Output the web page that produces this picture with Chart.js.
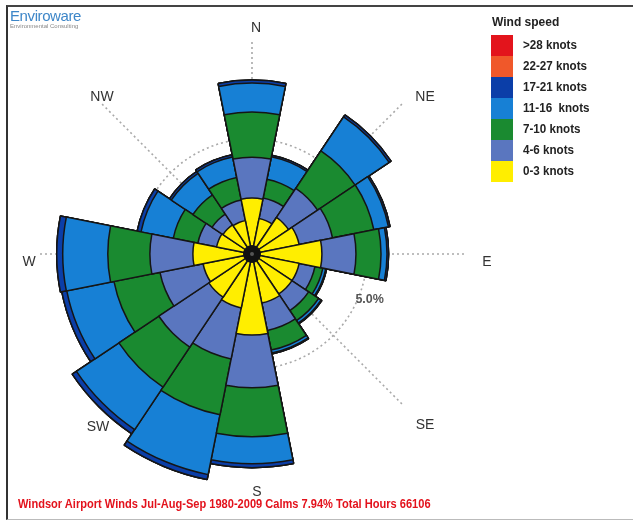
<!DOCTYPE html>
<html lang="en">
<head>
<meta charset="UTF-8">
<title>Windsor Airport Winds</title>
<script src="https://cdn.jsdelivr.net/npm/chart.js"></script>
<style>
  body { margin: 0; background: #fff; }
  .page { position: relative; width: 633px; height: 523px; overflow: hidden; font-family: "Liberation Sans", Arial, sans-serif; }
  .frame { position: absolute; left: 6px; top: 5px; width: 700px; height: 512px; border-left: 2px solid #333; border-top: 2px solid #444; border-bottom: 1px solid #bbb; }
  .rose { position: absolute; left: 2px; top: 4px; width: 500px; height: 500px; }
  .logo { position: absolute; left: 10px; top: 7px; color: #3d86c8; font-size: 15px; letter-spacing: -0.4px; }
  .logo small { display: block; color: #888; font-size: 6px; letter-spacing: 0; margin-top: -1px; }
  .legend { position: absolute; left: 491px; top: 15px; color: #222; font-weight: bold; }
  .legend .head { font-size: 12px; height: 20px; margin-left: 1px; }
  .legend .row { position: relative; height: 21px; }
  .legend .sw { position: absolute; left: 0; top: 0; width: 22px; height: 21px; }
  .legend .lab { position: absolute; left: 32px; top: 3px; font-size: 12.5px; white-space: pre; transform: scaleX(0.93); transform-origin: left; }
  .title { position: absolute; left: 18px; top: 496px; color: #e3121c; font-weight: bold; font-size: 13.5px; white-space: nowrap; transform: scaleX(0.82); transform-origin: left; }
</style>
</head>
<body>
<div class="page">
  <div class="frame"></div>
  <div class="rose"><canvas id="rose"></canvas></div>
  <div class="logo">Enviroware<small>Environmental Consulting</small></div>
  <div class="legend" id="legend"><div class="head">Wind speed</div></div>
  <div class="title">Windsor Airport Winds Jul-Aug-Sep 1980-2009 Calms 7.94% Total Hours 66106</div>
</div>

<script>
// directions, clockwise from north
var directions = ['N','NNE','NE','ENE','E','ESE','SE','SSE','S','SSW','SW','WSW','W','WNW','NW','NNW'];

// frequency (%) of each speed class per direction
var knots0to3   = [2.43,1.57,1.91,2.09,3.04,2.09,2.09,2.17,3.52,2.39,2.26,2.17,2.57,1.57,1.52,1.48];
var knots4to6   = [1.78,0.91,1.52,1.48,1.48,0.70,0.87,1.22,2.30,2.26,2.61,1.91,1.87,0.83,0.57,0.91];
var knots7to10  = [1.96,0.83,1.96,1.83,1.09,0.35,0.52,0.87,2.13,2.48,2.09,2.04,1.83,1.09,1.00,1.00];
var knots11to16 = [1.26,1.00,1.78,0.65,0.26,0.13,0.13,0.13,1.17,2.65,2.22,2.09,1.96,1.43,1.13,0.91];
var knots17to21 = [0.13,0.07,0.10,0.07,0.07,0.04,0.04,0.04,0.17,0.22,0.22,0.22,0.26,0.17,0.10,0.10];
var knots22to27 = [0,0,0,0,0,0,0,0,0,0,0,0,0,0,0,0];
var knotsOver28 = [0,0,0,0,0,0,0,0,0,0,0,0,0,0,0,0];

var classLabels = ['0-3 knots','4-6 knots','7-10 knots','11-16  knots','17-21 knots','22-27 knots','>28 knots'];
var classColors = ['#ffee00','#5a76bf','#1a8a30','#1780d5','#0b3ea8','#f0582a','#e3141c'];
var classValues = [knots0to3, knots4to6, knots7to10, knots11to16, knots17to21, knots22to27, knotsOver28];

var compassLabels = ['N','NE','E','SE','S','SW','W','NW'];
var ringLabel = '5.0%';

// stacked rose: each dataset holds the running total, smallest on top
var datasets = [];
var running = directions.map(function () { return 0; });
for (var k = 0; k < classValues.length; k++) {
  running = running.map(function (v, i) { return +(v + classValues[k][i]).toFixed(2); });
  datasets.push({
    label: classLabels[k],
    data: running.slice(),
    backgroundColor: classColors[k],
    borderColor: '#151515',
    borderWidth: 1.5
  });
}

// legend, top class first
var legend = document.getElementById('legend');
for (var j = classLabels.length - 1; j >= 0; j--) {
  var row = document.createElement('div');
  row.className = 'row';
  row.innerHTML = '<div class="sw" style="background:' + classColors[j] + '"></div><div class="lab"></div>';
  row.querySelector('.lab').textContent = classLabels[j];
  legend.appendChild(row);
}

var labelOffsets = [[4,6],[9,7],[3,8],[9,7],[5,6],[10,9],[9,8],[14,7]];

var compass = {
  id: 'compass',
  beforeDatasetsDraw: function (chart) {
    var s = chart.scales.r, ctx = chart.ctx;
    ctx.save();
    ctx.strokeStyle = '#a9a9a9';
    ctx.lineWidth = 1.6;
    ctx.setLineDash([2, 3]);
    for (var i = 0; i < compassLabels.length; i++) {
      var a = i * Math.PI / 4;
      ctx.beginPath();
      ctx.moveTo(s.xCenter, s.yCenter);
      ctx.lineTo(s.xCenter + Math.sin(a) * 214, s.yCenter - Math.cos(a) * 214);
      ctx.stroke();
    }
    ctx.setLineDash([]);
    ctx.fillStyle = '#333';
    ctx.font = '14px "Liberation Sans", Arial, sans-serif';
    ctx.textAlign = 'center';
    ctx.textBaseline = 'middle';
    for (var i = 0; i < compassLabels.length; i++) {
      var a = i * Math.PI / 4;
      ctx.fillText(compassLabels[i],
        s.xCenter + Math.sin(a) * 232 + labelOffsets[i][0],
        s.yCenter - Math.cos(a) * 232 + labelOffsets[i][1]);
    }
    var r5 = s.getDistanceFromCenterForValue(5) + 11;
    var a5 = 111 * Math.PI / 180;
    ctx.fillStyle = '#555';
    ctx.font = 'bold 12.5px "Liberation Sans", Arial, sans-serif';
    ctx.fillText(ringLabel, s.xCenter + Math.sin(a5) * r5, s.yCenter - Math.cos(a5) * r5);
    ctx.restore();
  },
  afterDatasetsDraw: function (chart) {
    var s = chart.scales.r, ctx = chart.ctx;
    ctx.save();
    ctx.fillStyle = '#111';
    ctx.beginPath();
    ctx.arc(s.xCenter, s.yCenter, 9, 0, Math.PI * 2);
    ctx.fill();
    ctx.fillStyle = '#555';
    ctx.beginPath();
    ctx.arc(s.xCenter, s.yCenter, 2, 0, Math.PI * 2);
    ctx.fill();
    ctx.restore();
  }
};

new Chart(document.getElementById('rose'), {
  type: 'polarArea',
  data: { labels: directions, datasets: datasets },
  options: {
    responsive: true,
    maintainAspectRatio: false,
    animation: false,
    events: [],
    layout: { padding: 0 },
    scales: {
      r: {
        min: 0,
        max: 250 * 5 / 115,
        startAngle: -11.25,
        ticks: { display: false, stepSize: 5 },
        grid: {
          circular: true,
          lineWidth: 1.6,
          color: function (c) { return c.tick && c.tick.value === 5 ? '#a9a9a9' : 'rgba(0,0,0,0)'; }
        },
        border: { dash: [2, 3] },
        angleLines: { display: false },
        pointLabels: { display: false }
      }
    },
    plugins: {
      legend: { display: false },
      tooltip: { enabled: false }
    }
  },
  plugins: [compass]
});
</script>
</body>
</html>
